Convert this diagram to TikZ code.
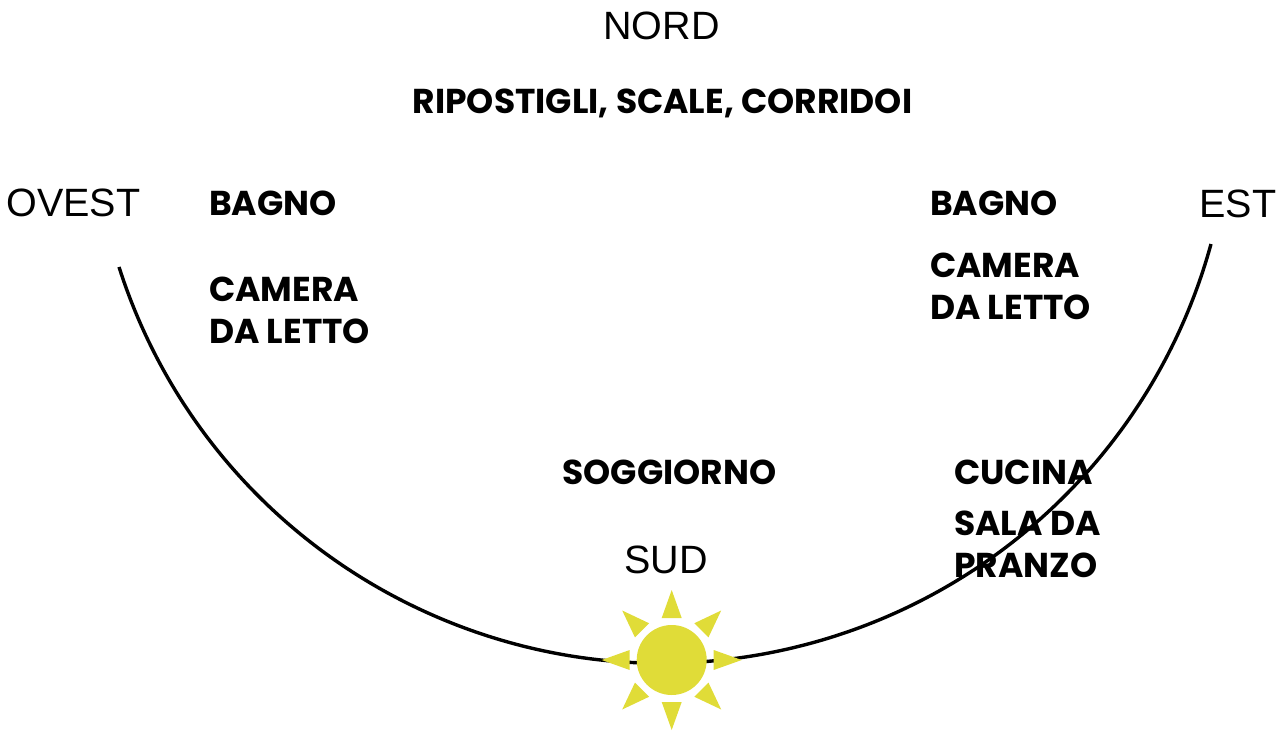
\documentclass[tikz,border=0pt]{standalone}
\usepackage{fontspec}
\setmainfont{Liberation Sans}
\newfontfamily\labfont{Poppins}
\definecolor{sunyellow}{HTML}{E0DC38}
\tikzset{
  compass/.style={inner sep=0pt,anchor=base,font=\fontsize{39.5}{39.5}\selectfont},
  room/.style={inner sep=0pt,align=left,anchor=north west,font=\labfont\bfseries\fontsize{34.5}{41.5}\selectfont},
  sunray/.style={fill=sunyellow,draw=none}
}
\begin{document}
\begin{tikzpicture}[x=1pt,y=-1pt]
\useasboundingbox (0,0) rectangle (1288,733);
\node[compass] (nord) at (661.5,39.5) {NORD};
\node[compass] (ovest) at (73.5,216) {OVEST};
\node[compass] (est) at (1238,217) {EST};
\node[compass] (sud) at (666,573) {SUD};
\node[room,anchor=north] (rip) at (662.5,89) {RIPOSTIGLI, SCALE, CORRIDOI};
\node[room] (b1) at (209,191) {BAGNO};
\node[room] (c1) at (209,277) {CAMERA\\DA LETTO};
\node[room] (b2) at (930,191) {BAGNO};
\node[room] (c2) at (930,253) {CAMERA\\DA LETTO};
\node[room,anchor=north] (sog) at (669.5,460) {SOGGIORNO};
\node[room] (cuc) at (954,460) {CUCINA};
\node[room] (sala) at (954,511) {SALA DA\\PRANZO};
\coordinate (arcstart) at (119,267);
\draw[line width=3.4pt] (arcstart) arc[start angle=197.74,end angle=344.67,radius=569.7pt];
\coordinate (sun) at (671.7,660);
\fill[sunyellow] (sun) circle[radius=35pt];
\foreach \a in {0,45,...,315}{
  \begin{scope}[shift={(sun)},rotate=\a]
    \fill[sunray] (70,0) -- (42,10) -- (42,-10) -- cycle;
  \end{scope}
}
\end{tikzpicture}
\end{document}
